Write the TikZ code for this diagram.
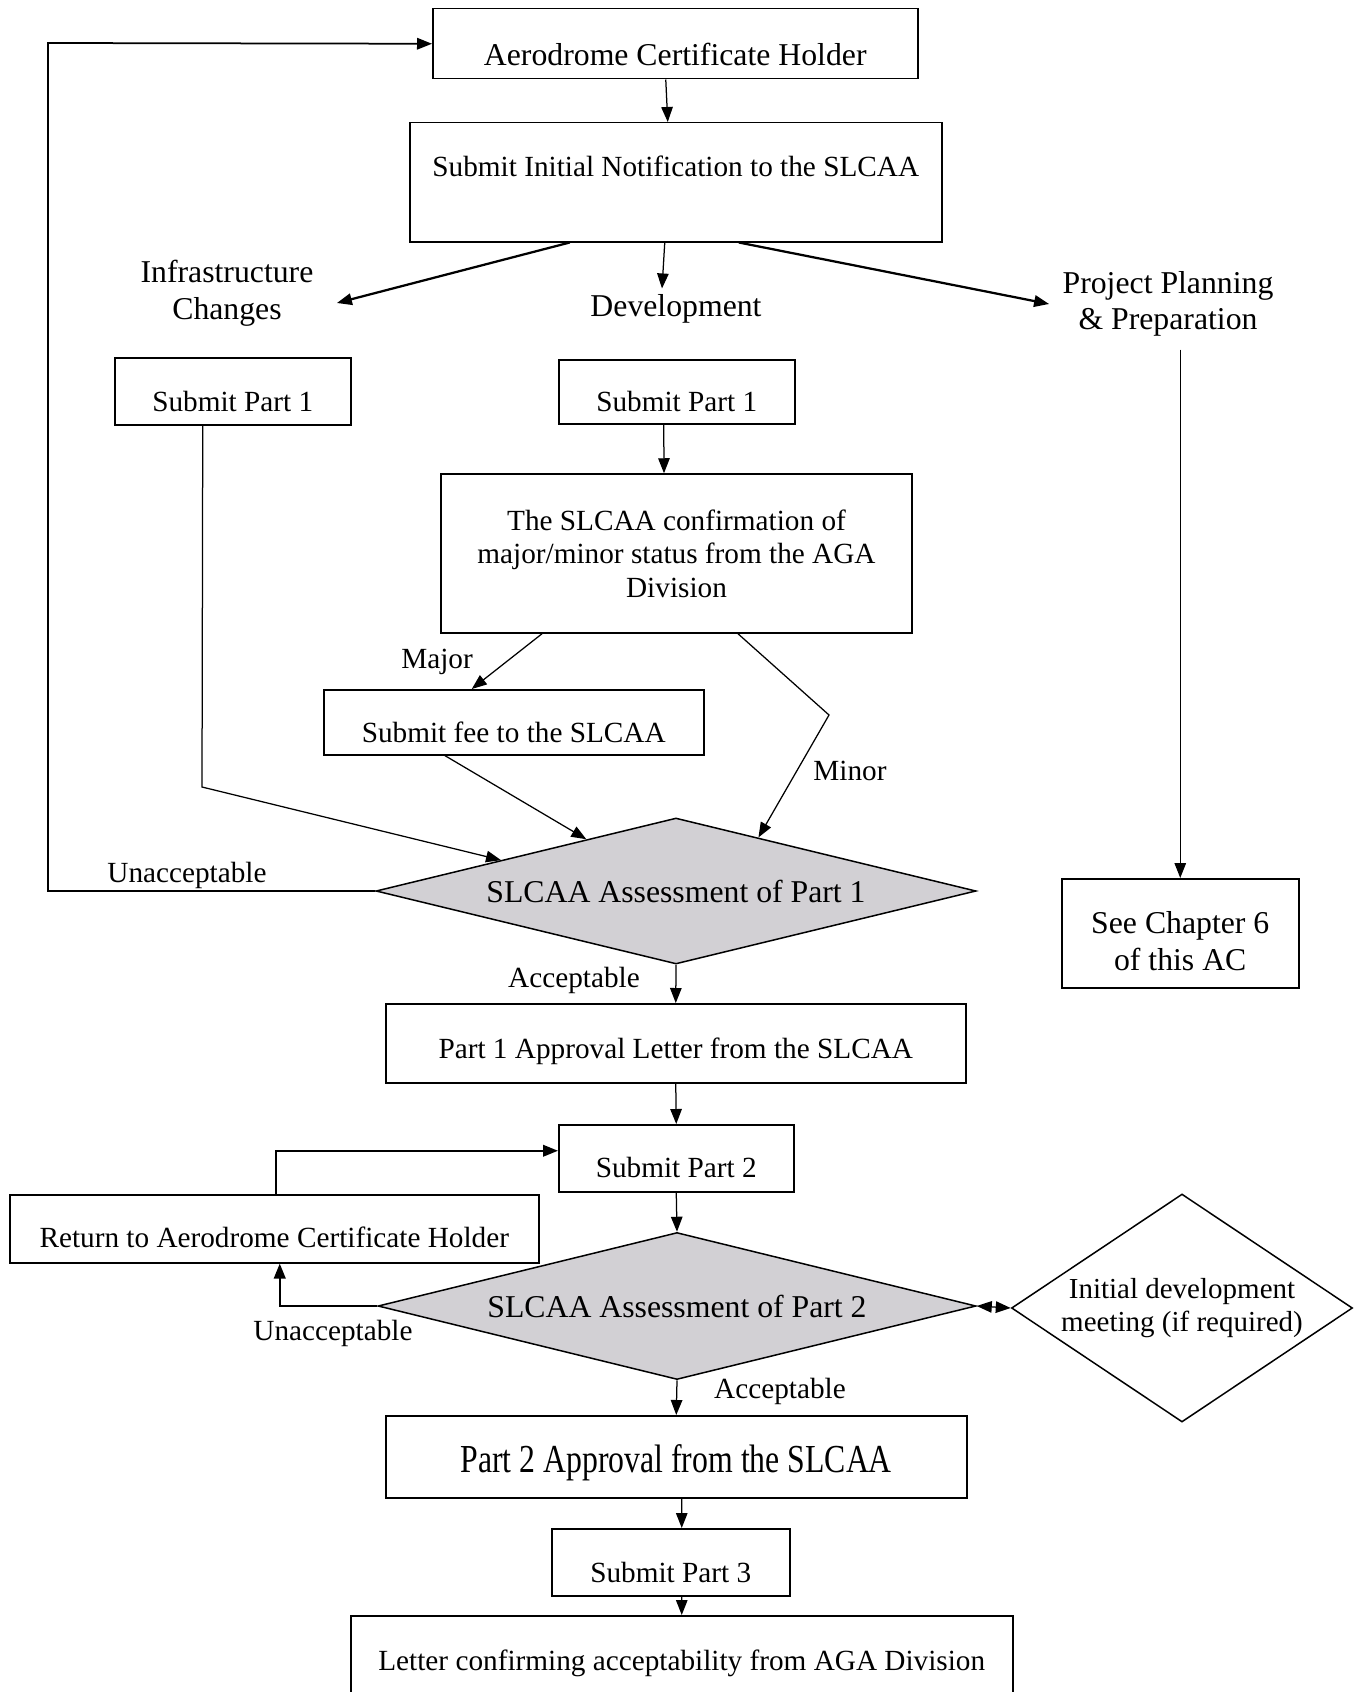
\documentclass[tikz,border=0pt]{standalone}
\usepackage{fontspec}
\setmainfont{Liberation Serif}
\usepackage{graphicx}
\usepackage{tikz}
\usetikzlibrary{arrows.meta,shapes.geometric}
\definecolor{assessgray}{RGB}{210,208,212}
\newcommand{\bigtxt}{\fontsize{12.7}{14.6}\selectfont}
\newcommand{\smtxt}{\fontsize{11.7}{13.4}\selectfont}

\begin{document}
\begin{tikzpicture}[x=0.4pt,y=-0.4pt,
    bx/.style={draw,line width=0.6pt,inner sep=0pt,anchor=north west,font=\smtxt},
    dia/.style={diamond,draw,line width=0.6pt,inner sep=0pt,font=\bigtxt},
    lbl/.style={inner sep=0pt,font=\smtxt},
    arr/.style={-{Triangle[length=6pt,width=4.6pt]},line width=0.5pt},
    thk/.style={arr,line width=0.9pt}]
 \useasboundingbox (0,0) rectangle (1354,1692);
 \node[bx,font=\bigtxt,minimum width=194pt,text height=22.8pt,text depth=5.2pt] (ACH) at (432,8) {Aerodrome Certificate Holder};
 \node[bx,minimum width=212.8pt,text height=21.6pt,text depth=26pt] (SIN) at (409,122) {Submit Initial Notification to the SLCAA};
 \node[lbl,font=\bigtxt,align=center] (IC) at (227,293) {Infrastructure\\Changes};
 \node[lbl,font=\bigtxt,anchor=base] (DEV) at (676,316) {Development};
 \node[lbl,font=\bigtxt,align=center] (PPP) at (1168,304) {Project Planning\\\& Preparation};
 \node[bx,minimum width=94.4pt,text height=21.6pt,text depth=5.2pt] (SP1I) at (114,357) {Submit Part 1};
 \node[bx,minimum width=94.4pt,text height=20.8pt,text depth=4.8pt] (SP1D) at (558,359) {Submit Part 1};
 \node[bx,anchor=center,align=center,minimum width=188.4pt,minimum height=63.6pt] (CONF) at (676.5,553.5)
  {The SLCAA confirmation of\\major/minor status from the AGA\\Division};
 \node[bx,minimum width=152pt,text height=21.2pt,text depth=4.8pt] (FEE) at (323,689) {Submit fee to the SLCAA};
 \node[bx,align=center,font={\fontsize{12.7}{14.8}\selectfont},minimum width=94.8pt,text height=36.8pt,text depth=6.8pt] (SEE) at (1061,878)
  {See Chapter 6\\of this AC};
 \node[dia,fill=assessgray,minimum width=240pt,minimum height=58.4pt,shape aspect=4.1] (AS1) at (676,891) {SLCAA Assessment of Part 1};
 \node[bx,minimum width=232pt,text height=22pt,text depth=9.6pt] (P1A) at (385,1003) {Part 1 Approval Letter from the SLCAA};
 \node[bx,minimum width=94pt,text height=21.2pt,text depth=5.6pt] (SP2) at (558,1124) {Submit Part 2};
 \node[bx,minimum width=211.6pt,text height=21.2pt,text depth=6pt] (RET) at (9,1194) {Return to Aerodrome Certificate Holder};
 \node[dia,fill=assessgray,minimum width=239.2pt,minimum height=58.8pt,shape aspect=4.1] (AS2) at (677,1306) {SLCAA Assessment of Part 2};
 \node[dia,font={\fontsize{11.6}{13.2}\selectfont},align=center,minimum width=136.4pt,minimum height=91.2pt,shape aspect=1.5] (IDM) at (1182,1308)
  {Initial development\\meeting (if required)};
 \node[bx,font=\bigtxt,minimum width=232.4pt,text height=22.8pt,text depth=10pt] (P2A) at (385,1415) {\scalebox{1}[1.25]{Part 2 Approval from the SLCAA}};
 \node[bx,minimum width=95.2pt,text height=21.6pt,text depth=5.2pt] (SP3) at (551,1528) {Submit Part 3};
 \node[bx,minimum width=264.8pt,text height=22pt,text depth=12pt] (LET) at (350,1615) {Letter confirming acceptability from AGA Division};
 \node[lbl,anchor=base] (MAJ) at (437,668) {Major};
 \node[lbl,anchor=base] (MIN) at (850,780) {Minor};
 \node[lbl,anchor=base] (UNA1) at (187,882) {Unacceptable};
 \node[lbl,anchor=base] (ACC1) at (574,987) {Acceptable};
 \node[lbl,anchor=base] (UNA2) at (333,1340) {Unacceptable};
 \node[lbl,anchor=base] (ACC2) at (780,1398) {Acceptable};
 \coordinate (LOOP) at (48,43);
 \coordinate (INFB) at (202,787);
 \coordinate (MINB) at (829,715);
 \draw[arr] ([xshift=-3.8pt]ACH.south) -- ([xshift=-3.2pt]SIN.north);
 \draw[thk] ([xshift=-42.4pt]SIN.south) -- ([shift={(9.2pt,-4pt)}]IC.east);
 \draw[arr] ([xshift=-4.4pt]SIN.south) -- ([shift={(-5.6pt,2pt)}]DEV.north);
 \draw[thk] ([xshift=25.2pt]SIN.south) -- ([xshift=-5.2pt]PPP.west);
 \draw[arr] ([yshift=-5pt]SEE.north |- PPP.south) -- (SEE.north);
 \draw[arr] ([xshift=-5.2pt]SP1D.south) -- ([xshift=-5pt]CONF.north);
 \draw[arr] ([xshift=-53.8pt]CONF.south) -- ([xshift=-16.8pt]FEE.north);
 \draw[arr] ([xshift=-27.6pt]FEE.south) -- (AS1.150);
 \draw[arr] ([xshift=24.6pt]CONF.south) -- (MINB) -- (AS1.33);
 \draw[arr] ([xshift=-12pt]SP1I.south) -- (INFB) -- (AS1.170);
 \draw[arr,line width=0.7pt] (AS1.west) -| (LOOP) -- (ACH.west);
 \draw[arr] (AS1.south) -- (P1A.north);
 \draw[arr] (P1A.south) -- (SP2.north);
 \draw[arr] (SP2.south) -- (AS2.north);
 \draw[thk] (AS2.west) -| ([xshift=2.2pt]RET.south);
 \draw[thk] ([xshift=0.6pt]RET.north) |- ([yshift=3pt]SP2.west);
 \draw[{Triangle[length=6pt,width=4.6pt]}-{Triangle[length=6pt,width=4.6pt]},line width=0.5pt] (AS2.east) -- (IDM.west);
 \draw[arr] (AS2.south) -- (P2A.north);
 \draw[arr] ([xshift=2.2pt]P2A.south) -- ([xshift=4.4pt]SP3.north);
 \draw[arr] ([xshift=4.4pt]SP3.south) -- (LET.north);
\end{tikzpicture}
\end{document}
